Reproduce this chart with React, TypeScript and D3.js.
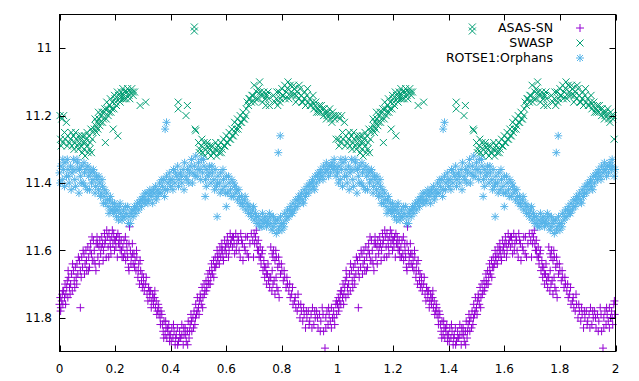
import React from "react";
import * as d3 from "d3";

// phase (0..1), magnitude — folded light curves; drawn at phase and phase+1
const asasSn: [number, number][] = [
  [0.000,11.76],[0.003,11.74],[0.005,11.77],[0.008,11.75],[0.010,11.73],[0.012,11.76],[0.015,11.72],[0.018,11.74],
  [0.020,11.70],[0.023,11.73],[0.026,11.71],[0.028,11.69],[0.030,11.74],[0.033,11.68],[0.036,11.71],[0.040,11.70],
  [0.043,11.67],[0.046,11.72],[0.050,11.66],[0.053,11.69],[0.057,11.65],[0.060,11.68],[0.063,11.64],[0.066,11.67],
  [0.075,11.77],[0.072,11.63],[0.075,11.66],[0.080,11.62],[0.083,11.65],[0.088,11.61],[0.092,11.64],[0.095,11.60],
  [0.098,11.66],[0.102,11.59],[0.105,11.62],[0.108,11.65],[0.112,11.58],[0.115,11.61],[0.118,11.63],[0.122,11.57],
  [0.125,11.60],[0.128,11.64],[0.132,11.58],[0.135,11.56],[0.138,11.62],[0.142,11.59],[0.145,11.57],[0.148,11.61],
  [0.152,11.56],[0.155,11.58],[0.158,11.60],[0.162,11.55],[0.165,11.57],[0.168,11.62],[0.172,11.56],[0.175,11.59],
  [0.178,11.55],[0.182,11.57],[0.185,11.61],[0.188,11.56],[0.192,11.58],[0.195,11.55],[0.198,11.60],[0.202,11.57],
  [0.205,11.56],[0.208,11.62],[0.212,11.58],[0.215,11.56],[0.218,11.60],[0.222,11.57],[0.225,11.62],[0.228,11.59],
  [0.232,11.57],[0.235,11.61],[0.238,11.63],[0.242,11.58],[0.245,11.62],[0.248,11.65],[0.250,11.66],[0.252,11.53],
  [0.255,11.60],[0.258,11.62],[0.262,11.58],[0.265,11.64],[0.268,11.61],[0.272,11.63],[0.275,11.66],[0.278,11.62],
  [0.282,11.68],[0.285,11.64],[0.288,11.70],[0.292,11.66],[0.295,11.69],[0.298,11.71],[0.302,11.68],[0.305,11.72],
  [0.310,11.70],[0.315,11.73],[0.320,11.71],[0.325,11.74],[0.328,11.72],[0.332,11.75],[0.335,11.73],[0.338,11.76],
  [0.342,11.74],[0.345,11.77],[0.348,11.75],[0.352,11.78],[0.355,11.76],[0.358,11.79],[0.362,11.80],[0.365,11.78],
  [0.370,11.82],[0.373,11.84],[0.376,11.81],[0.380,11.85],[0.383,11.83],[0.386,11.86],[0.390,11.84],[0.393,11.82],
  [0.396,11.87],[0.400,11.85],[0.404,11.83],[0.408,11.86],[0.412,11.84],[0.416,11.88],[0.420,11.85],[0.424,11.83],
  [0.428,11.87],[0.432,11.84],[0.436,11.86],[0.440,11.82],[0.445,11.88],[0.448,11.85],[0.452,11.83],[0.456,11.87],
  [0.460,11.84],[0.463,11.81],[0.466,11.86],[0.470,11.82],[0.473,11.79],[0.476,11.84],[0.480,11.80],[0.484,11.78],
  [0.487,11.82],[0.490,11.76],[0.493,11.79],[0.496,11.74],[0.500,11.77],[0.503,11.75],[0.506,11.73],[0.510,11.76],
  [0.513,11.71],[0.516,11.74],[0.520,11.70],[0.523,11.72],[0.527,11.69],[0.530,11.71],[0.534,11.67],[0.537,11.70],
  [0.540,11.66],[0.544,11.68],[0.547,11.64],[0.550,11.67],[0.554,11.63],[0.557,11.65],[0.560,11.62],[0.564,11.64],
  [0.567,11.60],[0.570,11.63],[0.574,11.61],[0.577,11.59],[0.580,11.62],[0.584,11.58],[0.587,11.60],[0.590,11.63],
  [0.594,11.57],[0.597,11.59],[0.600,11.61],[0.604,11.56],[0.607,11.58],[0.610,11.60],[0.614,11.55],[0.618,11.57],
  [0.622,11.59],[0.626,11.56],[0.630,11.61],[0.634,11.55],[0.638,11.58],[0.642,11.56],[0.646,11.60],[0.650,11.62],
  [0.655,11.57],[0.660,11.63],[0.665,11.59],[0.670,11.56],[0.675,11.61],[0.680,11.62],[0.690,11.55],[0.695,11.57],
  [0.700,11.55],[0.705,11.56],[0.710,11.58],[0.712,11.60],[0.715,11.57],[0.718,11.62],[0.722,11.59],[0.725,11.64],
  [0.728,11.61],[0.732,11.66],[0.735,11.63],[0.738,11.68],[0.742,11.65],[0.745,11.70],[0.748,11.67],[0.752,11.69],
  [0.756,11.71],[0.760,11.68],[0.764,11.72],[0.768,11.70],[0.775,11.73],[0.782,11.71],[0.790,11.74],
  [0.760,11.59],[0.765,11.61],[0.770,11.60],[0.775,11.63],[0.780,11.62],[0.785,11.65],[0.790,11.64],[0.795,11.67],
  [0.800,11.66],[0.805,11.69],[0.810,11.68],[0.815,11.71],[0.820,11.70],[0.825,11.72],[0.830,11.74],[0.835,11.73],
  [0.840,11.76],[0.845,11.75],[0.850,11.77],[0.855,11.78],[0.860,11.76],[0.865,11.80],[0.870,11.78],[0.875,11.81],
  [0.880,11.79],[0.885,11.83],[0.890,11.80],[0.895,11.78],[0.900,11.81],[0.905,11.79],[0.910,11.77],[0.915,11.82],
  [0.920,11.80],[0.925,11.78],[0.930,11.83],[0.935,11.79],[0.940,11.81],[0.945,11.77],[0.950,11.84],[0.955,11.89],
  [0.958,11.80],[0.962,11.78],[0.966,11.82],[0.970,11.79],[0.974,11.81],[0.978,11.77],[0.982,11.80],[0.986,11.78],
  [0.990,11.82],[0.994,11.76],[0.997,11.79],
  [0.004,11.78],[0.012,11.72],[0.022,11.76],[0.031,11.66],[0.038,11.73],[0.047,11.64],[0.055,11.71],[0.062,11.70],
  [0.068,11.62],[0.078,11.68],[0.085,11.60],[0.090,11.67],[0.097,11.63],[0.104,11.66],[0.110,11.60],[0.117,11.56],
  [0.124,11.63],[0.131,11.66],[0.137,11.58],[0.143,11.64],[0.150,11.59],[0.157,11.63],[0.163,11.58],[0.170,11.54],
  [0.177,11.62],[0.183,11.59],[0.190,11.54],[0.197,11.57],[0.203,11.59],[0.210,11.55],[0.217,11.58],[0.223,11.60],
  [0.230,11.62],[0.237,11.56],[0.243,11.60],[0.250,11.58],[0.257,11.64],[0.263,11.61],[0.270,11.65],[0.277,11.60],
  [0.283,11.66],[0.290,11.63],[0.297,11.67],[0.303,11.70],[0.312,11.68],[0.318,11.75],[0.323,11.72],[0.330,11.77],
  [0.337,11.74],[0.343,11.72],[0.350,11.79],[0.357,11.77],[0.363,11.82],[0.368,11.79],[0.375,11.86],[0.382,11.81],
  [0.388,11.83],[0.395,11.85],[0.402,11.87],[0.410,11.82],[0.418,11.86],[0.425,11.88],[0.433,11.86],[0.440,11.85],
  [0.447,11.83],[0.454,11.85],[0.461,11.88],[0.468,11.84],[0.475,11.81],[0.482,11.83],[0.489,11.80],[0.495,11.78],
  [0.502,11.79],[0.508,11.74],[0.515,11.77],[0.521,11.73],[0.528,11.72],[0.535,11.69],[0.542,11.70],[0.548,11.66],
  [0.555,11.68],[0.562,11.65],[0.568,11.62],[0.575,11.64],[0.582,11.60],[0.588,11.62],[0.595,11.60],[0.602,11.58],
  [0.608,11.62],[0.615,11.58],[0.622,11.56],[0.628,11.58],[0.636,11.60],[0.644,11.57],[0.652,11.55],[0.658,11.58],
  [0.668,11.60],[0.676,11.56],[0.685,11.58],[0.698,11.62],[0.702,11.58],[0.708,11.54],[0.716,11.60],[0.723,11.62],
  [0.730,11.60],[0.737,11.65],[0.744,11.67],[0.750,11.64],[0.757,11.68],[0.765,11.66],[0.772,11.69],[0.779,11.68],
  [0.786,11.72],[0.768,11.62],[0.778,11.60],[0.788,11.62],[0.798,11.64],[0.808,11.66],[0.818,11.68],[0.828,11.70],
  [0.838,11.71],[0.848,11.74],[0.858,11.73],[0.868,11.76],[0.878,11.77],[0.888,11.78],[0.898,11.82],[0.908,11.83],
  [0.918,11.78],[0.928,11.80],[0.938,11.84],[0.948,11.79],[0.958,11.83],[0.968,11.77],[0.978,11.83],[0.988,11.80],
  [0.996,11.75],
];

const swasp: [number, number][] = [
  [0.002,11.20],[0.008,11.21],[0.015,11.20],[0.025,11.22],[0.004,11.27],[0.012,11.28],[0.020,11.27],[0.030,11.26],
  [0.035,11.28],[0.040,11.27],[0.045,11.29],[0.050,11.26],[0.055,11.28],[0.060,11.27],[0.065,11.29],[0.068,11.30],
  [0.072,11.28],[0.075,11.27],[0.078,11.29],[0.082,11.31],[0.085,11.28],[0.088,11.30],[0.090,11.26],[0.094,11.28],
  [0.097,11.27],[0.100,11.29],[0.103,11.31],[0.106,11.26],[0.110,11.28],[0.115,11.31],[0.120,11.25],[0.125,11.24],
  [0.130,11.23],[0.135,11.22],[0.138,11.24],[0.142,11.21],[0.145,11.23],[0.150,11.20],[0.155,11.22],[0.160,11.19],
  [0.165,11.28],[0.168,11.21],[0.172,11.18],[0.175,11.20],[0.180,11.17],[0.185,11.19],[0.190,11.16],[0.193,11.24],
  [0.196,11.18],[0.200,11.15],[0.205,11.17],[0.210,11.26],[0.212,11.14],[0.218,11.16],[0.222,11.13],[0.226,11.15],
  [0.230,11.14],[0.235,11.13],[0.240,11.15],[0.245,11.12],[0.250,11.14],[0.255,11.13],[0.260,11.12],[0.265,11.14],
  [0.270,11.13],[0.290,11.17],[0.310,11.16],[0.427,11.16],[0.427,11.18],[0.460,11.17],[0.455,11.20],[0.488,11.24],
  [0.490,11.245],[0.485,10.937],[0.485,10.949],
  [0.500,11.28],[0.505,11.30],[0.510,11.29],[0.515,11.31],[0.520,11.28],[0.525,11.30],[0.530,11.29],[0.535,11.31],
  [0.540,11.30],[0.545,11.32],[0.550,11.29],[0.555,11.31],[0.560,11.30],[0.565,11.32],[0.570,11.29],[0.575,11.31],
  [0.580,11.28],[0.585,11.30],[0.590,11.27],[0.595,11.29],[0.600,11.26],[0.605,11.28],[0.610,11.25],[0.615,11.27],
  [0.620,11.24],[0.625,11.26],[0.630,11.22],[0.635,11.24],[0.640,11.21],[0.645,11.23],[0.650,11.20],[0.655,11.22],
  [0.660,11.19],[0.665,11.21],[0.670,11.20],[0.675,11.16],[0.680,11.17],[0.685,11.15],[0.690,11.16],[0.695,11.14],
  [0.700,11.11],[0.705,11.15],[0.710,11.13],[0.715,11.12],[0.720,11.10],[0.725,11.14],[0.730,11.16],[0.735,11.13],
  [0.740,11.15],[0.745,11.14],[0.750,11.13],[0.755,11.17],[0.770,11.14],[0.775,11.16],[0.780,11.15],[0.785,11.17],
  [0.790,11.13],[0.795,11.15],[0.800,11.12],[0.805,11.14],[0.810,11.11],[0.815,11.13],[0.820,11.12],[0.825,11.15],
  [0.830,11.11],[0.835,11.13],[0.840,11.14],[0.845,11.12],[0.850,11.16],[0.855,11.13],[0.860,11.15],[0.865,11.12],
  [0.870,11.14],[0.875,11.16],[0.880,11.15],[0.885,11.17],[0.890,11.14],[0.895,11.16],[0.900,11.15],[0.905,11.17],
  [0.910,11.16],[0.915,11.18],[0.920,11.17],[0.925,11.19],[0.930,11.18],[0.935,11.17],[0.940,11.19],[0.945,11.18],
  [0.950,11.20],[0.955,11.19],[0.960,11.21],[0.965,11.19],[0.970,11.20],[0.975,11.21],[0.980,11.22],[0.985,11.20],
  [0.990,11.21],[0.995,11.27],
  [0.006,11.29],[0.018,11.25],[0.028,11.29],[0.042,11.25],[0.052,11.30],[0.058,11.25],[0.070,11.26],[0.080,11.26],
  [0.092,11.32],[0.099,11.25],[0.108,11.30],[0.113,11.24],[0.118,11.27],[0.128,11.21],[0.133,11.25],[0.140,11.19],
  [0.148,11.22],[0.153,11.19],[0.158,11.21],[0.163,11.18],[0.170,11.16],[0.178,11.19],[0.183,11.15],[0.188,11.18],
  [0.198,11.14],[0.203,11.16],[0.208,11.13],[0.215,11.15],[0.220,11.14],[0.228,11.12],[0.233,11.15],[0.243,11.13],
  [0.253,11.15],[0.263,11.13],[0.503,11.31],[0.512,11.27],[0.522,11.32],[0.532,11.28],[0.542,11.29],[0.552,11.31],
  [0.562,11.28],[0.572,11.30],[0.582,11.31],[0.592,11.29],[0.602,11.28],[0.612,11.27],[0.622,11.26],[0.632,11.25],
  [0.642,11.24],[0.652,11.22],[0.662,11.21],[0.672,11.18],[0.682,11.15],[0.692,11.14],[0.702,11.16],[0.712,11.15],
  [0.722,11.13],[0.732,11.14],[0.742,11.17],[0.752,11.15],[0.782,11.13],[0.792,11.16],[0.802,11.14],[0.812,11.15],
  [0.822,11.10],[0.832,11.14],[0.842,11.11],[0.852,11.14],[0.862,11.11],[0.872,11.16],[0.882,11.13],[0.892,11.12],
  [0.902,11.17],[0.912,11.14],[0.922,11.16],[0.932,11.19],[0.942,11.17],[0.952,11.18],[0.962,11.20],[0.972,11.18],
  [0.982,11.19],[0.992,11.20],
];

const rotse: [number, number][] = [
  [0.000,11.37],[0.005,11.35],[0.010,11.39],[0.015,11.36],[0.020,11.34],[0.025,11.38],[0.030,11.36],[0.035,11.40],
  [0.040,11.35],[0.045,11.37],[0.050,11.33],[0.055,11.39],[0.060,11.36],[0.065,11.34],[0.070,11.43],[0.075,11.38],
  [0.080,11.35],[0.085,11.40],[0.090,11.37],[0.095,11.36],[0.100,11.42],[0.105,11.38],[0.110,11.36],[0.115,11.40],
  [0.120,11.39],[0.125,11.37],[0.130,11.41],[0.135,11.39],[0.140,11.42],[0.145,11.40],[0.150,11.43],[0.155,11.41],
  [0.160,11.44],[0.165,11.46],[0.170,11.43],[0.175,11.47],[0.180,11.45],[0.185,11.48],[0.190,11.46],[0.195,11.49],
  [0.200,11.47],[0.205,11.50],[0.210,11.48],[0.215,11.47],[0.220,11.49],[0.225,11.51],[0.230,11.48],[0.235,11.50],
  [0.240,11.49],[0.245,11.47],[0.250,11.50],[0.255,11.52],[0.260,11.48],[0.265,11.50],[0.270,11.47],[0.275,11.49],
  [0.280,11.46],[0.285,11.48],[0.290,11.45],[0.295,11.47],[0.300,11.44],[0.305,11.46],[0.310,11.45],[0.315,11.43],
  [0.320,11.45],[0.325,11.42],[0.330,11.44],[0.335,11.46],[0.340,11.43],[0.345,11.41],[0.350,11.44],[0.355,11.42],
  [0.360,11.40],[0.365,11.43],[0.370,11.41],[0.375,11.39],[0.380,11.24],[0.385,11.22],[0.380,11.42],[0.385,11.38],
  [0.390,11.40],[0.395,11.37],[0.400,11.41],[0.405,11.39],[0.410,11.36],[0.415,11.40],[0.420,11.38],[0.425,11.35],
  [0.430,11.39],[0.435,11.37],[0.440,11.40],[0.445,11.36],[0.450,11.34],[0.455,11.38],[0.460,11.36],[0.465,11.40],
  [0.470,11.35],[0.475,11.33],[0.480,11.37],[0.485,11.35],[0.490,11.32],[0.495,11.38],[0.500,11.34],[0.505,11.36],
  [0.510,11.33],[0.515,11.37],[0.520,11.35],[0.524,11.44],[0.525,11.39],[0.530,11.36],[0.535,11.38],[0.540,11.35],
  [0.545,11.40],[0.550,11.37],[0.555,11.39],[0.560,11.36],[0.567,11.50],[0.565,11.41],[0.570,11.38],[0.575,11.40],
  [0.580,11.37],[0.585,11.42],[0.590,11.39],[0.595,11.41],[0.600,11.47],[0.600,11.38],[0.605,11.43],[0.610,11.40],
  [0.615,11.42],[0.620,11.39],[0.625,11.44],[0.630,11.41],[0.635,11.43],[0.640,11.45],[0.645,11.42],[0.650,11.46],
  [0.655,11.44],[0.660,11.47],[0.665,11.45],[0.670,11.48],[0.675,11.46],[0.680,11.49],[0.685,11.47],[0.690,11.50],
  [0.695,11.48],[0.700,11.51],[0.705,11.49],[0.710,11.52],[0.715,11.50],[0.720,11.53],[0.725,11.51],[0.730,11.49],
  [0.735,11.52],[0.740,11.50],[0.745,11.53],[0.750,11.51],[0.755,11.49],[0.760,11.52],[0.765,11.54],[0.770,11.50],
  [0.775,11.52],[0.780,11.55],[0.785,11.51],[0.787,11.31],[0.794,11.26],[0.790,11.53],[0.795,11.50],[0.800,11.54],
  [0.805,11.52],[0.810,11.49],[0.815,11.51],[0.820,11.48],[0.825,11.50],[0.830,11.47],[0.835,11.49],[0.840,11.46],
  [0.845,11.48],[0.850,11.45],[0.855,11.47],[0.860,11.44],[0.865,11.46],[0.870,11.43],[0.875,11.45],[0.880,11.42],
  [0.885,11.44],[0.890,11.41],[0.895,11.43],[0.900,11.40],[0.905,11.42],[0.910,11.39],[0.915,11.41],[0.920,11.38],
  [0.925,11.40],[0.930,11.37],[0.935,11.39],[0.940,11.36],[0.945,11.38],[0.950,11.35],[0.955,11.37],[0.960,11.34],
  [0.965,11.36],[0.970,11.35],[0.975,11.37],[0.980,11.34],[0.985,11.36],[0.990,11.35],[0.995,11.38],
  [0.003,11.40],[0.012,11.33],[0.018,11.41],[0.028,11.33],[0.033,11.38],[0.042,11.42],[0.048,11.36],[0.058,11.41],
  [0.063,11.33],[0.072,11.36],[0.078,11.40],[0.088,11.34],[0.093,11.41],[0.102,11.35],[0.108,11.42],[0.113,11.37],
  [0.122,11.36],[0.128,11.43],[0.133,11.38],[0.142,11.38],[0.148,11.44],[0.153,11.39],[0.158,11.46],[0.163,11.42],
  [0.172,11.45],[0.178,11.49],[0.183,11.44],[0.192,11.48],[0.198,11.46],[0.203,11.48],[0.212,11.51],[0.218,11.46],
  [0.228,11.50],[0.238,11.47],[0.248,11.52],[0.258,11.49],[0.268,11.48],[0.278,11.47],[0.288,11.46],[0.298,11.45],
  [0.308,11.43],[0.318,11.46],[0.328,11.43],[0.338,11.42],[0.348,11.45],[0.358,11.43],[0.368,11.39],[0.378,11.44],
  [0.388,11.42],[0.398,11.39],[0.408,11.42],[0.418,11.37],[0.428,11.41],[0.438,11.38],[0.448,11.42],[0.458,11.39],
  [0.468,11.37],[0.478,11.40],[0.488,11.38],[0.498,11.36],[0.508,11.39],[0.518,11.33],[0.528,11.41],[0.538,11.37],
  [0.548,11.35],[0.558,11.42],[0.568,11.40],[0.578,11.43],[0.588,11.36],[0.598,11.43],[0.608,11.38],[0.618,11.44],
  [0.628,11.40],[0.638,11.42],[0.648,11.44],[0.658,11.46],[0.668,11.44],[0.678,11.47],[0.688,11.49],[0.698,11.47],
  [0.708,11.50],[0.718,11.52],[0.728,11.53],[0.738,11.51],[0.748,11.52],[0.758,11.50],[0.768,11.53],[0.778,11.51],
  [0.788,11.54],[0.798,11.52],[0.808,11.53],[0.818,11.50],[0.828,11.48],[0.838,11.49],[0.848,11.47],[0.858,11.45],
  [0.868,11.44],[0.878,11.46],[0.888,11.43],[0.898,11.41],[0.908,11.40],[0.918,11.42],[0.928,11.38],[0.938,11.37],
  [0.948,11.39],[0.958,11.36],[0.968,11.38],[0.978,11.35],[0.988,11.33],[0.998,11.36],
];

const xTicks = [0, 0.2, 0.4, 0.6, 0.8, 1, 1.2, 1.4, 1.6, 1.8, 2];
const yTicks = [11, 11.2, 11.4, 11.6, 11.8];
const seriesNames = ["ASAS-SN", "SWASP", "ROTSE1:Orphans"];
const seriesColors = ["#9400d3", "#009e73", "#56b4e9"];

const W = 639, H = 381;
const L = 59.5, R = 615.5, T = 14.5, B = 351.5;

const plusPath = "M-4,0H4M0,-4V4";
const crossPath = "M-3.5,-3.5L3.5,3.5M-3.5,3.5L3.5,-3.5";
const starPath = "M-4,0H4M0,-4V4M-3,-3L3,3M-3,3L3,-3";
const markers = [plusPath, crossPath, starPath];

export default function App() {
  const x = d3.scaleLinear().domain([0, 2]).range([L, R]);
  const y = d3.scaleLinear().domain([10.9, 11.9]).range([T, B]);
  const all = [asasSn, swasp, rotse];
  const font = "'DejaVu Sans', sans-serif";
  return (
    <div style={{ position: "fixed", left: 0, top: 0 }}>
      <svg width={W} height={H} style={{ display: "block", background: "#fff" }}>
        {all.map((data, si) => (
          <g key={si} stroke={seriesColors[si]} strokeWidth={1} fill="none">
            {data.flatMap((d, i) => [
              <path key={i + "a"} d={markers[si]} transform={`translate(${x(d[0])},${y(d[1])})`} />,
              <path key={i + "b"} d={markers[si]} transform={`translate(${x(d[0] + 1)},${y(d[1])})`} />,
            ])}
          </g>
        ))}
        <rect x={L} y={T} width={R - L} height={B - T} fill="none" stroke="#000" strokeWidth={1} />
        <g stroke="#000" strokeWidth={1}>
          {xTicks.map((t) => (
            <g key={"xt" + t}>
              <line x1={Math.round(x(t)) + 0.5} x2={Math.round(x(t)) + 0.5} y1={B} y2={B - 6} />
              <line x1={Math.round(x(t)) + 0.5} x2={Math.round(x(t)) + 0.5} y1={T} y2={T + 6} />
            </g>
          ))}
          {yTicks.map((t) => (
            <g key={"yt" + t}>
              <line x1={L} x2={L + 6} y1={Math.round(y(t)) + 0.5} y2={Math.round(y(t)) + 0.5} />
              <line x1={R} x2={R - 6} y1={Math.round(y(t)) + 0.5} y2={Math.round(y(t)) + 0.5} />
            </g>
          ))}
        </g>
        <g fontFamily={font} fontSize={12} fill="#000">
          {xTicks.map((t) => (
            <text key={"xl" + t} x={x(t)} y={373} textAnchor="middle">{d3.format("~g")(t)}</text>
          ))}
          {yTicks.map((t) => (
            <text key={"yl" + t} x={52} y={y(t)} dy="0.35em" textAnchor="end">{d3.format("~g")(t)}</text>
          ))}
        </g>
        <g fontFamily={font} fontSize={12.5}>
          {seriesNames.map((n, i) => (
            <g key={n}>
              <text x={553} y={28 + i * 15} dy="0.35em" textAnchor="end" fill="#000">{n}</text>
              <path d={markers[i]} transform={`translate(580,${28 + i * 15})`} stroke={seriesColors[i]} fill="none" />
            </g>
          ))}
        </g>
      </svg>
    </div>
  );
}
